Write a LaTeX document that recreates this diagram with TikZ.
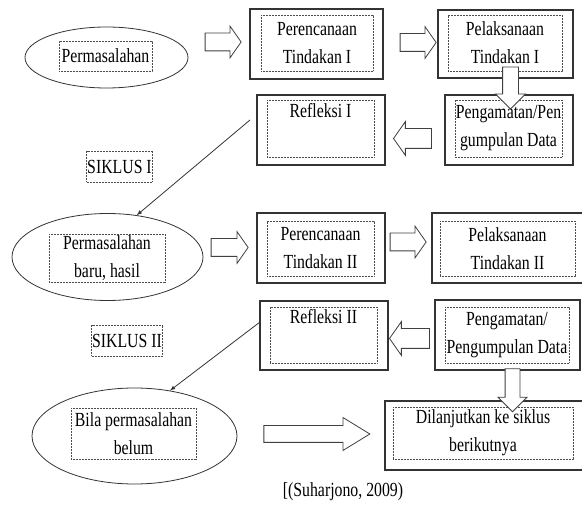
\documentclass[tikz,border=0pt]{standalone}
\usepackage{fontspec}
\setmainfont[FakeStretch=0.79]{Liberation Serif}
\usepackage{tikz}
\usetikzlibrary{shapes.geometric,shapes.arrows}
\tikzset{
kotak/.style={draw=black!80, line width=1.3pt},
isi/.style={draw=black!70, line width=0.6pt, dash pattern=on 0.6pt off 0.9pt,
  inner sep=1pt, align=center},
masalah/.style={ellipse, draw=black!80, line width=0.8pt},
panah/.style={single arrow, draw=black!75, fill=white, line width=0.8pt,
  inner sep=0pt, inner ysep=8.5pt, single arrow head extend=7pt,
  single arrow tip angle=110},
}

\begin{document}
\begin{tikzpicture}[x=1pt,y=-1pt,font=\fontsize{20}{28}\selectfont]
\useasboundingbox (0,0) rectangle (582,505);
% siklus I
\node[masalah, minimum width=163, minimum height=61] (masalah1) at (106.5,57.5) {};
\node[isi, minimum width=93, minimum height=30] (masalah1t) at (105.5,56) {Permasalahan};
\node[kotak, minimum width=133, minimum height=70] (rencana1) at (316.5,44) {};
\node[isi, minimum width=112, minimum height=56] (rencana1t) at (317,43) {Perencanaan\\Tindakan I};
\node[kotak, minimum width=135, minimum height=68] (laksana1) at (505.5,44) {};
\node[isi, minimum width=114, minimum height=56] (laksana1t) at (505,43) {Pelaksanaan\\Tindakan I};
\node[kotak, minimum width=128, minimum height=70] (amat1) at (509,130) {};
\node[isi, minimum width=107, minimum height=57] (amat1t) at (508.5,128.5) {Pengamatan/Pen\\gumpulan Data};
\node[kotak, minimum width=128, minimum height=70] (refleksi1) at (321,130) {};
\node[isi, minimum width=107, minimum height=57] (refleksi1t) at (320.5,128.5) {Refleksi I\\ \strut};
\node[isi, inner xsep=0.5pt, minimum height=31] (siklus1) at (119.5,166.5) {SIKLUS I};
% siklus II
\node[masalah, minimum width=191, minimum height=87] (masalah2) at (107.5,257) {};
\node[isi, minimum width=116, minimum height=48] (masalah2t) at (107,258) {Permasalahan\\baru, hasil};
\node[kotak, minimum width=128, minimum height=70] (rencana2) at (321,248) {};
\node[isi, minimum width=107, minimum height=55] (rencana2t) at (320.5,248.5) {Perencanaan\\Tindakan II};
\node[kotak, minimum width=154, minimum height=70] (laksana2) at (509,248) {};
\node[isi, minimum width=135, minimum height=55] (laksana2t) at (507.5,248.5) {Pelaksanaan\\Tindakan II};
\node[kotak, minimum width=145, minimum height=70] (amat2) at (507.5,335) {};
\node[isi, minimum width=124, minimum height=56] (amat2t) at (507,335) {Pengamatan/\\Pengumpulan Data};
\node[kotak, minimum width=128, minimum height=69] (refleksi2) at (324,335.5) {};
\node[isi, minimum width=107, minimum height=56] (refleksi2t) at (323.5,335) {Refleksi II\\ \strut};
\node[isi, inner xsep=0.5pt, minimum height=31] (siklus2) at (127,340.5) {SIKLUS II};
% akhir
\node[masalah, minimum width=205, minimum height=96] (masalah3) at (134.5,436) {};
\node[isi, minimum width=125, minimum height=51] (masalah3t) at (133.5,433.5) {Bila permasalahan\\belum};
\node[kotak, minimum width=201, minimum height=69] (lanjut) at (485.5,435.5) {};
\node[isi, minimum width=180, minimum height=52] (lanjutt) at (483,433) {Dilanjutkan ke siklus\\berikutnya};
\node (sumber) at (343,492) {[(Suharjono, 2009)};
% the block arrows
\node[panah, minimum height=36] (a1) at (220,42) {};
\node[panah, minimum height=36] (a2) at (415,42.5) {};
\node[panah, minimum height=42, shape border rotate=270, inner sep=7.5pt,
  single arrow tip angle=90] (a3) at (510.5,84) {};
\node[panah, minimum height=38, shape border rotate=180, inner ysep=9.5pt] (a4) at (416,138.5) {};
\node[panah, minimum height=37] (a5) at (226.5,247.5) {};
\node[panah, minimum height=36] (a6) at (405,242) {};
\node[panah, minimum height=40, shape border rotate=180, inner ysep=9.5pt] (a7) at (413,338.5) {};
\node[panah, minimum height=43, shape border rotate=270, inner sep=7pt,
  single arrow tip angle=90] (a8) at (512.5,386.5) {};
\node[panah, minimum height=106, inner ysep=8pt, single arrow head extend=8pt,
  single arrow tip angle=63] (a9) at (310,434) {};
% the lines
\coordinate (ujung1) at (250,120);
\coordinate (ujung2) at (260,322);
\draw[-latex, line width=0.8pt, black!80] (ujung1) -- (masalah2.55);
\draw[-latex, line width=0.8pt, black!80] (ujung2) -- (masalah3.52);
\end{tikzpicture}
\end{document}
